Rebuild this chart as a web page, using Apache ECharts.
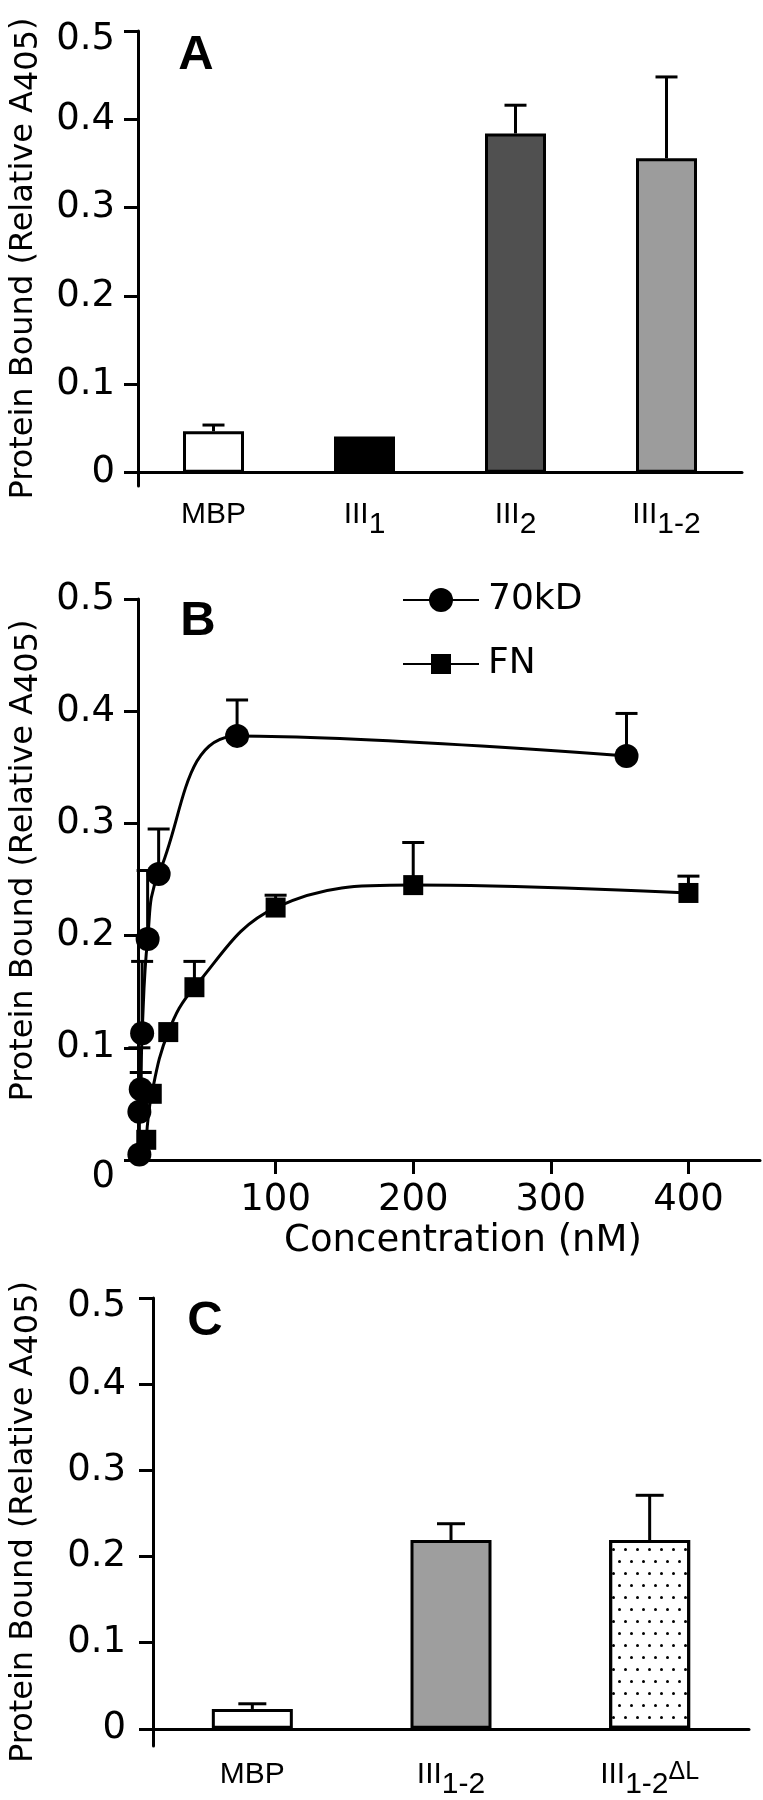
<!DOCTYPE html>
<html>
<head>
<meta charset="utf-8">
<title>Protein Bound</title>
<script src="https://cdn.jsdelivr.net/npm/echarts@6/dist/echarts.min.js"></script>
<style>
  html, body { margin: 0; padding: 0; background: #fff; }
  #chart { width: 763px; height: 1800px; }
</style>
</head>
<body>
<div id="chart"></div>
<script>
// A - bars
var catsA = ['MBP', 'III1', 'III2', 'III1-2'];
var valsA = [0.047, 0.041, 0.384, 0.356];
var errA = [0.054, null, 0.416, 0.448];

// B - binding curves (x in nM)
var conc70 = [1, 1, 2, 3, 7, 15, 72, 355];
var val70 = [0.005, 0.043, 0.063, 0.113, 0.197, 0.255, 0.378, 0.36];
var err70 = [null, 0.10, 0.078, 0.177, 0.258, 0.295, 0.41, 0.398];
var concFN = [6, 10, 22, 41, 100, 200, 400];
var valFN = [0.018, 0.059, 0.114, 0.154, 0.225, 0.245, 0.238];
var errFN = [null, null, null, 0.177, 0.236, 0.283, 0.253];
var ticksX = [100, 200, 300, 400];

// C - bars
var catsC = ['MBP', 'III1-2', 'III1-2ΔL'];
var valsC = [0.023, 0.219, 0.219];
var errC = [0.029, 0.238, 0.271];

var ticksY = [0, 0.1, 0.2, 0.3, 0.4, 0.5];

var FONT = 'DejaVu Sans';
var LAB = 'Liberation Sans';
var LW = 3;

var chart = echarts.init(document.getElementById('chart'));

// III1-2 -> III + subscript, ΔL as superscript
function catLabel(name) {
  var m = name.match(/^III([0-9-]+)(ΔL)?$/);
  if (!m) return '{m|' + name + '}';
  return '{m|III}{s|' + m[1] + '}' + (m[2] ? '{u|' + m[2] + '}' : '');
}
var catRich = {
  m: { fontFamily: LAB, fontSize: 30, lineHeight: 30, verticalAlign: 'top', color: '#000' },
  s: { fontFamily: LAB, fontSize: 30, lineHeight: 50, verticalAlign: 'middle', color: '#000' },
  u: { fontFamily: LAB, fontSize: 25, lineHeight: 12, verticalAlign: 'top', color: '#000' }
};

function errRender(capHalf) {
  return function (params, api) {
    var x = api.value(0), y = api.value(1), top = api.value(2);
    var p0 = api.coord([x, y]);
    var p1 = api.coord([x, top]);
    var st = { stroke: '#000', lineWidth: LW };
    return {
      type: 'group',
      children: [
        { type: 'line', shape: { x1: p0[0], y1: p0[1], x2: p1[0], y2: p1[1] }, style: st },
        { type: 'line', shape: { x1: p1[0] - capHalf, y1: p1[1], x2: p1[0] + capHalf, y2: p1[1] }, style: st }
      ]
    };
  };
}

function errData(xs, ys, tops) {
  var out = [];
  for (var i = 0; i < ys.length; i++) {
    if (tops[i] != null) out.push([xs ? xs[i] : i, ys[i], tops[i]]);
  }
  return out;
}

function yAxisFor(gi, min, margin, gap, namePad, zeroLow) {
  return {
    gridIndex: gi,
    type: 'value',
    min: min,
    max: 0.5,
    axisLine: { show: true, onZero: false, lineStyle: { color: '#000', width: LW } },
    axisTick: { show: true, length: 14, customValues: ticksY, lineStyle: { color: '#000', width: LW } },
    splitLine: { show: false },
    axisLabel: {
      customValues: ticksY,
      margin: margin,
      color: '#000',
      fontFamily: FONT,
      fontSize: 37,
      formatter: function (v) {
        if (v === 0) return zeroLow ? '{z|0}' : '0';
        if (v === 0.5 && !zeroLow) return '{lo|0.5}';
        return v.toFixed(1);
      },
      rich: {
        z: { fontFamily: FONT, fontSize: 37, color: '#000', padding: [34, 0, 0, 0] },
        lo: { fontFamily: FONT, fontSize: 37, color: '#000', padding: [16, 0, 0, 0] }
      }
    },
    name: '{m|Protein Bound (Relative A}{s|405}{m|)}',
    nameLocation: 'middle',
    nameRotate: 90,
    nameGap: gap,
    nameTextStyle: {
      padding: namePad,
      rich: {
        m: { fontFamily: FONT, fontSize: 32, lineHeight: 32, verticalAlign: 'top', color: '#000' },
        s: { fontFamily: FONT, fontSize: 32, lineHeight: 42, verticalAlign: 'middle', color: '#000' }
      }
    }
  };
}

function catAxisFor(gi, cats) {
  return {
    gridIndex: gi,
    type: 'category',
    data: cats,
    axisLine: { onZero: true, lineStyle: { color: '#000', width: LW } },
    axisTick: { show: false },
    axisLabel: { margin: 14, formatter: catLabel, rich: catRich, interval: 0 },
    splitLine: { show: false }
  };
}

var colorsA = ['#ffffff', '#000000', '#505050', '#9c9c9c'];
var colorsC = ['#ffffff', '#9e9e9e', '#ffffff'];

var option = {
  animation: false,
  backgroundColor: '#fff',
  grid: [
    { left: 136, top: 31, width: 606, height: 455 },
    { left: 136, top: 599, width: 624, height: 561 },
    { left: 151, top: 1298, width: 598, height: 463 }
  ],
  graphic: [
    { type: 'text', x: 196, y: 55, style: { text: 'A', font: 'bold 49px "Liberation Sans"', fill: '#000', align: 'center', verticalAlign: 'middle' } },
    { type: 'text', x: 198, y: 621, style: { text: 'B', font: 'bold 49px "Liberation Sans"', fill: '#000', align: 'center', verticalAlign: 'middle' } },
    { type: 'text', x: 205, y: 1321, style: { text: 'C', font: 'bold 49px "Liberation Sans"', fill: '#000', align: 'center', verticalAlign: 'middle' } }
  ],
  legend: [
    {
      data: ['70kD'], left: 402, top: 582, padding: 0, itemWidth: 76, itemHeight: 30,
      textStyle: { fontFamily: FONT, fontSize: 36, color: '#000', padding: [0, 0, 0, 4] }
    },
    {
      data: ['FN'], left: 402, top: 646, padding: 0, itemWidth: 76, itemHeight: 25,
      textStyle: { fontFamily: FONT, fontSize: 36, color: '#000', padding: [0, 0, 0, 4] }
    }
  ],
  xAxis: [
    catAxisFor(0, catsA),
    {
      gridIndex: 1,
      type: 'value',
      min: 0,
      max: 452,
      axisLine: { onZero: false, lineStyle: { color: '#000', width: LW } },
      axisTick: { show: true, length: 14, customValues: ticksX, lineStyle: { color: '#000', width: LW } },
      axisLabel: { customValues: ticksX, margin: 20, color: '#000', fontFamily: FONT, fontSize: 37, lineHeight: 40 },
      splitLine: { show: false },
      name: 'Concentration (nM)',
      nameLocation: 'middle',
      nameGap: 53,
      nameTextStyle: { fontFamily: FONT, fontSize: 37, lineHeight: 40, color: '#000', padding: [0, 0, 0, 28] }
    },
    catAxisFor(2, catsC)
  ],
  yAxis: [
    yAxisFor(0, -0.015, 23, 88, 0, false),
    yAxisFor(1, 0, 23, 88, [0, 0, 0, 38], true),
    yAxisFor(2, -0.02, 27, 103, 0, false)
  ],
  series: [
    {
      type: 'bar', xAxisIndex: 0, yAxisIndex: 0, barWidth: 61,
      data: valsA.map(function (v, i) {
        return { value: v, itemStyle: { color: colorsA[i], borderColor: '#000', borderWidth: LW } };
      })
    },
    {
      type: 'custom', xAxisIndex: 0, yAxisIndex: 0, renderItem: errRender(11),
      data: errData(null, valsA, errA), z: 3
    },
    {
      type: 'custom', xAxisIndex: 1, yAxisIndex: 1, renderItem: errRender(11),
      data: errData(conc70, val70, err70), z: 1
    },
    {
      type: 'custom', xAxisIndex: 1, yAxisIndex: 1, renderItem: errRender(11),
      data: errData(concFN, valFN, errFN), z: 1
    },
    {
      name: '70kD', type: 'line', xAxisIndex: 1, yAxisIndex: 1,
      data: conc70.map(function (x, i) { return [x, val70[i]]; }),
      smooth: 0.4, symbol: 'circle', symbolSize: 24, showAllSymbol: true,
      itemStyle: { color: '#000' }, lineStyle: { color: '#000', width: LW }, z: 3
    },
    {
      name: 'FN', type: 'line', xAxisIndex: 1, yAxisIndex: 1,
      data: concFN.map(function (x, i) { return [x, valFN[i]]; }),
      smooth: 0.4, symbol: 'rect', symbolSize: 20, showAllSymbol: true,
      itemStyle: { color: '#000' }, lineStyle: { color: '#000', width: LW }, z: 3
    },
    {
      type: 'bar', xAxisIndex: 2, yAxisIndex: 2, barWidth: 81,
      data: valsC.map(function (v, i) {
        var st = { color: colorsC[i], borderColor: '#000', borderWidth: LW };
        if (i === 2) {
          // dotted fill
          st.decal = {
            symbol: 'circle', symbolSize: 1, color: '#000',
            dashArrayX: [[3, 8.7], [0, 5.85, 3, 2.85]], dashArrayY: [3, 8.7]
          };
        }
        return { value: v, itemStyle: st };
      })
    },
    {
      type: 'custom', xAxisIndex: 2, yAxisIndex: 2, renderItem: errRender(14),
      data: errData(null, valsC, errC), z: 3
    }
  ]
};

chart.setOption(option);
window.addEventListener('resize', function () { chart.resize(); });
</script>
</body>
</html>
